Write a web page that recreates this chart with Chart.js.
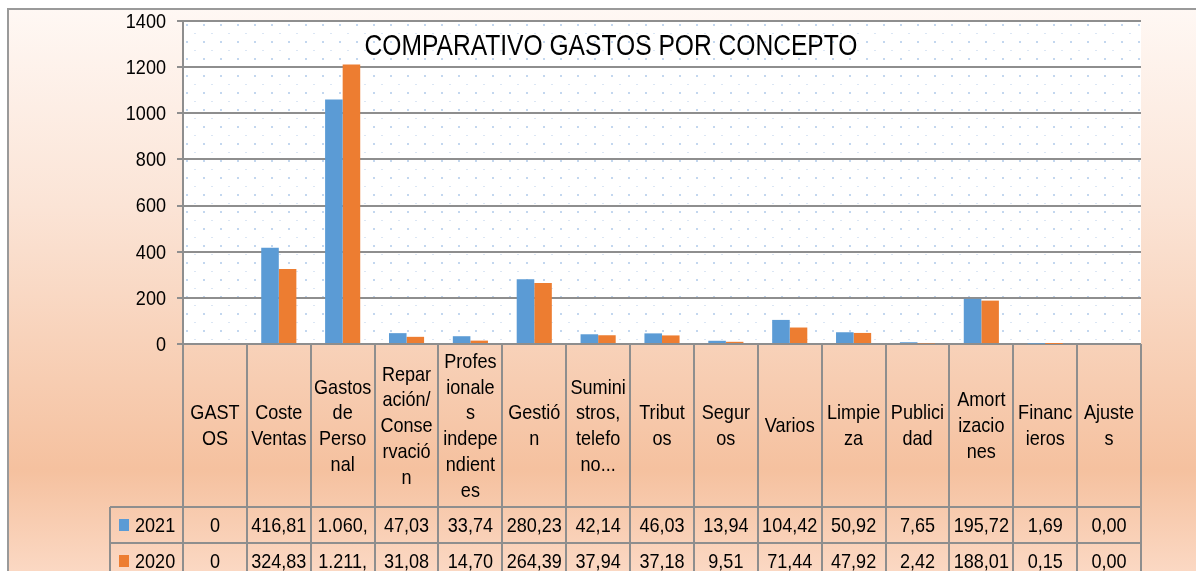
<!DOCTYPE html>
<html>
<head>
<meta charset="utf-8">
<script src="https://cdn.jsdelivr.net/npm/chart.js@4.4.1/dist/chart.umd.min.js"></script>
<style>
html, body { margin: 0; padding: 0; background: #fff; }
canvas { display: block; }
</style>
</head>
<body>
<canvas id="gastosChart" width="1196" height="571"></canvas>
<script>
// DATA
const categories = [
    ['GAST', 'OS'], ['Coste', 'Ventas'], ['Gastos', 'de', 'Perso', 'nal'],
    ['Repar', 'ación/', 'Conse', 'rvació', 'n'], ['Profes', 'ionale', 's', 'indepe', 'ndient', 'es'],
    ['Gestió', 'n'], ['Sumini', 'stros,', 'telefo', 'no...'], ['Tribut', 'os'], ['Segur', 'os'],
    ['Varios'], ['Limpie', 'za'], ['Publici', 'dad'], ['Amort', 'izacio', 'nes'], ['Financ', 'ieros'], ['Ajuste', 's']
];
const years = ['2021', '2020'];
const values2021 = [0, 416.81, 1060, 47.03, 33.74, 280.23, 42.14, 46.03, 13.94, 104.42, 50.92, 7.65, 195.72, 1.69, 0];
const values2020 = [0, 324.83, 1211, 31.08, 14.70, 264.39, 37.94, 37.18, 9.51, 71.44, 47.92, 2.42, 188.01, 0.15, 0];
// text as shown in the data table (Excel cuts the wide cells)
const table2021 = ['0', '416,81', '1.060,', '47,03', '33,74', '280,23', '42,14', '46,03', '13,94', '104,42', '50,92', '7,65', '195,72', '1,69', '0,00'];
const table2020 = ['0', '324,83', '1.211,', '31,08', '14,70', '264,39', '37,94', '37,18', '9,51', '71,44', '47,92', '2,42', '188,01', '0,15', '0,00'];
const yMax = 1400;
const yStep = 200;
const chartTitle = 'COMPARATIVO GASTOS POR CONCEPTO';

const BLUE = '#5b9bd5';
const ORANGE = '#ed7d31';
const GRID = '#8e8e8e';
const FONT = '"Liberation Sans", Arial, sans-serif';
const SQUEEZE = 0.86; // the original uses a narrow face

// text squeezed horizontally
function narrow(ctx, text, x, y, align, squeeze) {
    ctx.save();
    ctx.translate(x, y);
    ctx.scale(squeeze || SQUEEZE, 1);
    ctx.textAlign = align;
    ctx.fillText(text, 0, 0);
    ctx.restore();
}

// dotted fill of the plot area
function dotPattern(ctx) {
    const c = document.createElement('canvas');
    c.width = 17; c.height = 17;
    const p = c.getContext('2d');
    p.fillStyle = '#c3d7ef';
    p.fillRect(3, 3, 2, 2);
    p.fillStyle = '#dbe6f4';
    p.fillRect(11, 12, 2, 1);
    return ctx.createPattern(c, 'repeat');
}

const excelLook = {
    id: 'excelLook',
    beforeDraw(chart) {
        const ctx = chart.ctx, a = chart.chartArea;
        ctx.save();
        ctx.fillStyle = '#fff';
        ctx.fillRect(0, 0, chart.width, chart.height);
        const g = ctx.createLinearGradient(0, 9, 0, chart.height);
        g.addColorStop(0, '#fff8f4');
        g.addColorStop(0.35, '#fbe4d6');
        g.addColorStop(0.82, '#f5c19f');
        g.addColorStop(1, '#fbd8c3');
        ctx.fillStyle = g;
        ctx.fillRect(8, 9, chart.width - 8, chart.height - 9);
        ctx.fillStyle = '#fff';
        ctx.fillRect(a.left, a.top, a.right - a.left, a.bottom - a.top);
        ctx.translate(a.left, a.top);
        ctx.fillStyle = dotPattern(ctx);
        ctx.fillRect(0, 0, a.right - a.left, a.bottom - a.top);
        ctx.restore();
    },
    afterDraw(chart) {
        const ctx = chart.ctx, a = chart.chartArea;
        const x = chart.scales.x, y = chart.scales.y;
        const colW = (a.right - a.left) / categories.length;
        const headBottom = 507, rowH = 36;
        ctx.save();

        // outer border
        ctx.strokeStyle = '#9a9a9a';
        ctx.lineWidth = 2;
        ctx.beginPath();
        ctx.moveTo(8, chart.height);
        ctx.lineTo(8, 9);
        ctx.lineTo(chart.width, 9);
        ctx.stroke();

        ctx.fillStyle = '#000';
        ctx.textBaseline = 'middle';

        // title
        ctx.font = '30px ' + FONT;
        narrow(ctx, chartTitle, 611, 47, 'center', 0.82);

        // y tick labels
        ctx.font = '21px ' + FONT;
        y.ticks.forEach(t => narrow(ctx, String(t.value), 166, y.getPixelForValue(t.value) + 1, 'right'));

        // data table grid
        ctx.strokeStyle = GRID;
        ctx.lineWidth = 2;
        ctx.beginPath();
        for (let i = 0; i <= categories.length; i++) {
            const xx = Math.round(a.left + i * colW);
            ctx.moveTo(xx, a.bottom);
            ctx.lineTo(xx, chart.height);
        }
        ctx.moveTo(110, headBottom);
        ctx.lineTo(110, chart.height);
        ctx.moveTo(110, headBottom);
        ctx.lineTo(a.right, headBottom);
        ctx.moveTo(110, headBottom + rowH);
        ctx.lineTo(a.right, headBottom + rowH);
        ctx.stroke();

        // header labels
        const lh = 25.8;
        const midHead = (a.bottom + headBottom) / 2 + 1;
        categories.forEach((lines, i) => {
            const cx = x.getPixelForValue(i);
            const y0 = midHead - (lines.length - 1) * lh / 2;
            lines.forEach((t, j) => narrow(ctx, t, cx, y0 + j * lh, 'center'));
        });

        // rows
        [table2021, table2020].forEach((row, r) => {
            const cy = headBottom + rowH * r + rowH / 2 + 1;
            ctx.fillStyle = r === 0 ? BLUE : ORANGE;
            ctx.fillRect(119, cy - 7, 10, 12);
            ctx.fillStyle = '#000';
            narrow(ctx, years[r], 135, cy, 'left');
            row.forEach((t, i) => narrow(ctx, t, x.getPixelForValue(i), cy, 'center'));
        });
        ctx.restore();
    }
};

new Chart(document.getElementById('gastosChart'), {
    type: 'bar',
    data: {
        labels: categories,
        datasets: [{
            label: years[0],
            data: values2021,
            backgroundColor: BLUE
        }, {
            label: years[1],
            data: values2020,
            backgroundColor: ORANGE
        }]
    },
    options: {
        responsive: false,
        devicePixelRatio: 1,
        animation: false,
        layout: { padding: { left: 113, right: 55, top: 21, bottom: 227 } },
        datasets: { bar: { categoryPercentage: 0.55, barPercentage: 1.0 } },
        plugins: {
            legend: { display: false },
            title: { display: false },
            tooltip: { enabled: false }
        },
        scales: {
            x: { display: false },
            y: {
                min: 0,
                max: yMax,
                ticks: { stepSize: yStep, display: false },
                grid: { color: GRID, lineWidth: 2, tickLength: 6, tickColor: GRID },
                border: { color: GRID, width: 2 },
                afterFit(scale) {
                    scale.width = 70;
                    scale.paddingTop = 0;
                    scale.paddingBottom = 0;
                }
            }
        }
    },
    plugins: [excelLook]
});
</script>
</body>
</html>
